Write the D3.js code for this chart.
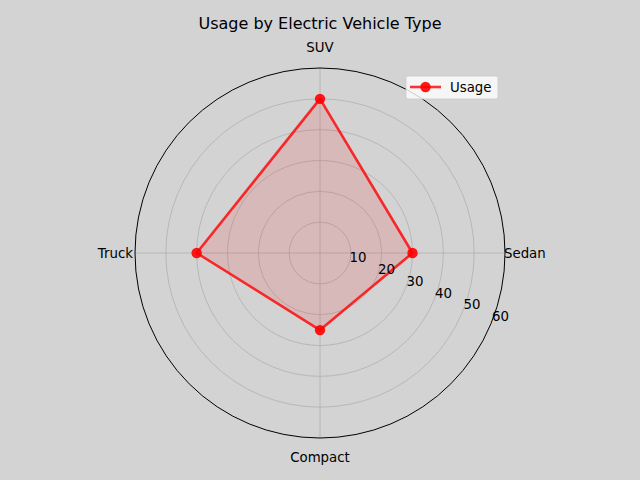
<!DOCTYPE html>
<html><head><meta charset="utf-8">
<script src="https://cdn.jsdelivr.net/npm/d3@7"></script>
<style>body{margin:0;background:#d3d3d3}svg{display:block}text{font-family:"DejaVu Sans",sans-serif}</style>
</head><body><svg id="c" width="640" height="480"></svg>
<script>
const categories = ["Sedan","SUV","Truck","Compact"];
const usage = [30, 50, 40, 25];
const rTicks = [10,20,30,40,50,60];
const title = "Usage by Electric Vehicle Type";
const seriesName = "Usage";

const svg = d3.select("#c");
svg.append("rect").attr("width",640).attr("height",480).attr("fill","#d3d3d3");
const cx = 320, cy = 253, R = 185;
const r = d3.scaleLinear().domain([0,60]).range([0,R]);
const ang = d3.scaleLinear().domain([0,categories.length]).range([0,2*Math.PI]);
const pt = (a, v) => [cx + r(v)*Math.cos(a), cy - r(v)*Math.sin(a)];
const g = svg.append("g");
rTicks.slice(0,-1).forEach(t => {
  g.append("circle").attr("cx",cx).attr("cy",cy).attr("r",r(t)).attr("fill","none").attr("stroke","#b0b0b0").attr("stroke-width",0.8);
});
categories.forEach((c,i) => {
  const [x,y] = pt(ang(i), 60);
  g.append("line").attr("x1",cx).attr("y1",cy).attr("x2",x).attr("y2",y).attr("stroke","#b0b0b0").attr("stroke-width",0.8);
});
const pts = usage.map((v,i) => pt(ang(i), v));
const line = d3.line().curve(d3.curveLinearClosed);
g.append("path").attr("d", line(pts)).attr("fill","rgba(255,0,0,0.12)").attr("stroke","none");
g.append("path").attr("d", line(pts)).attr("fill","none").attr("stroke","#ff0000").attr("stroke-opacity",0.8).attr("stroke-width",2.6).attr("stroke-linejoin","round");
g.selectAll("circle.m").data(pts).enter().append("circle").attr("class","m")
  .attr("cx",d=>d[0]).attr("cy",d=>d[1]).attr("r",5.2).attr("fill","#ff0000").attr("fill-opacity",0.9);
g.append("circle").attr("cx",cx).attr("cy",cy).attr("r",R).attr("fill","none").attr("stroke","#000").attr("stroke-width",1);
const la = -22.5*Math.PI/180;
rTicks.forEach(t => {
  const [x,y] = pt(la, t);
  g.append("text").attr("x",x+1).attr("y",y-2.5).attr("font-size",13.33).attr("fill","#000").text(t);
});
categories.forEach((c,i) => {
  const a = ang(i);
  const cosA = Math.cos(a), sinA = Math.sin(a);
  let t = g.append("text").attr("font-size",13.33).text(c);
  if (Math.abs(cosA) < 1e-6) {
    t.attr("x",cx).attr("text-anchor","middle")
     .attr("y", sinA > 0 ? cy - R - 16 : cy + R + 24);
  } else {
    t.attr("x", cosA > 0 ? cx + R - 1 : cx - R - 2)
     .attr("text-anchor", cosA > 0 ? "start" : "end")
     .attr("y", cy).attr("dy","0.35em");
  }
});
svg.append("text").attr("x",320).attr("y",29).attr("text-anchor","middle").attr("font-size",16).text(title);
const lg = svg.append("g");
lg.append("rect").attr("x",406).attr("y",76).attr("width",92).attr("height",23).attr("rx",2).attr("fill","rgba(255,255,255,0.8)").attr("stroke","#cccccc").attr("stroke-opacity",0.8);
lg.append("line").attr("x1",410).attr("x2",441).attr("y1",87).attr("y2",87).attr("stroke","#ff0000").attr("stroke-opacity",0.8).attr("stroke-width",2.6);
lg.append("circle").attr("cx",425.5).attr("cy",87).attr("r",5.2).attr("fill","#ff0000").attr("fill-opacity",0.9);
lg.append("text").attr("x",450).attr("y",87).attr("dy","0.35em").attr("font-size",13.33).text(seriesName);
</script></body></html>
